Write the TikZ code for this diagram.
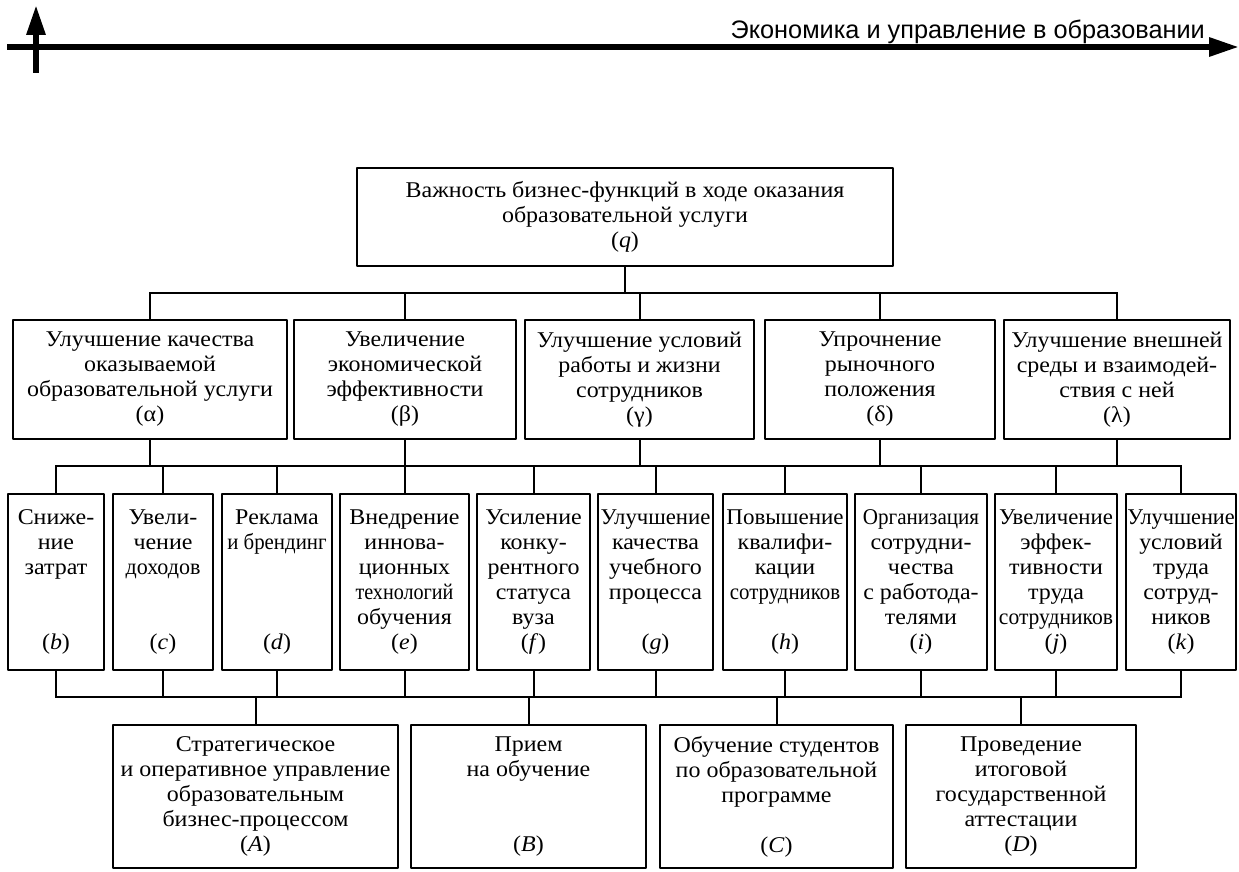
\documentclass[tikz,border=0pt]{standalone}
\usepackage{fontspec}
\usepackage{graphicx}
\setmainfont[FakeStretch=1.065]{Liberation Serif}
\newfontfamily\headfont{Liberation Sans}
\usetikzlibrary{arrows.meta}
\newcommand{\tight}[2][0.88]{\scalebox{#1}[1]{#2}}
\tikzset{
	box/.style={draw, line width=2, inner sep=0, align=center, font=\fontsize{22.5}{25}\selectfont},
	link/.style={line width=2, line cap=rect},
}
\begin{document}
\begin{tikzpicture}[x=1pt,y=-1pt,>={Triangle[length=30pt,width=18pt]}, line join=round]
	\useasboundingbox (0,0) rectangle (1239,872);
	% running head
	\draw[line width=6,->] (7,47) -- (1239,47);
	\draw[line width=6,->] (36,73) -- (36,5);
	\node[anchor=base east, inner sep=0, font=\headfont\fontsize{25.3}{27}\selectfont] (head) at (1205,38.5) {Экономика и управление в образовании};
	% buses
	\coordinate (bus1) at (0,293);
	\coordinate (bus2) at (0,466);
	\coordinate (bus3) at (0,697);
	% top
	\node[box, minimum width=536, minimum height=98] (q) at (625,217) {Важность бизнес-функций в ходе оказания\\образовательной услуги\\(\textit{q})};
	% level 2
	\foreach \n/\x/\w/\t in {
		al/150/274/{Улучшение качества\\оказываемой\\образовательной услуги\\(α)},
		be/405/222/{Увеличение\\экономической\\эффективности\\(β)},
		ga/639.5/229/{Улучшение условий\\работы и жизни\\сотрудников\\(γ)},
		de/880/230/{Упрочнение\\рыночного\\положения\\(δ)},
		la/1117/226/{Улучшение внешней\\среды и взаимодей-\\ствия с ней\\(λ)}}
	\node[box, minimum width=\w, minimum height=119] (\n) at (\x,379.5) {\t};
	% level 3
	\foreach \n/\x/\w/\t in {
		b/56/96/{Сниже-\\ние\\затрат\\~\\~\\(\textit{b})},
		c/163/100/{Увели-\\чение\\\tight[0.92]{доходов}\\~\\~\\(\textit{c})},
		d/277/110/{Реклама\\\tight[0.87]{и брендинг}\\~\\~\\~\\(\textit{d})},
		e/404.5/129/{Внедрение\\иннова-\\ционных\\\tight[0.84]{технологий}\\обучения\\(\textit{e})},
		f/533.5/113/{Усиление\\конку-\\рентного\\статуса\\вуза\\(\textit{f})},
		g/655.5/115/{\tight[0.95]{Улучшение}\\качества\\учебного\\процесса\\~\\(\textit{g})},
		h/785/124/{\tight[0.96]{Повышение}\\квалифи-\\кации\\\tight[0.87]{сотрудников}\\~\\(\textit{h})},
		i/921/132/{\tight[0.88]{Организация}\\сотрудни-\\чества\\с работода-\\телями\\(\textit{i})},
		j/1056/122/{\tight[0.95]{Увеличение}\\эффек-\\тивности\\труда\\\tight[0.9]{сотрудников}\\(\textit{j})},
		k/1181/110/{\tight[0.93]{Улучшение}\\условий\\труда\\сотруд-\\ников\\(\textit{k})}}
	\node[box, minimum width=\w, minimum height=176] (\n) at (\x,582) {\t};
	% processes
	\foreach \n/\x/\w/\t in {
		A/255.5/285/{Стратегическое\\и оперативное управление\\образовательным\\бизнес-процессом\\(\textit{A})},
		B/528.5/235/{Прием\\на обучение\\~\\~\\(\textit{B})},
		C/776.5/233/{Обучение студентов\\по образовательной\\программе\\~\\(\textit{C})},
		D/1021/230/{Проведение\\итоговой\\государственной\\аттестации\\(\textit{D})}}
	\node[box, minimum width=\w, minimum height=143] (\n) at (\x,796.5) {\t};
	% connectors
	\draw[link] (q.south) -- (q.south |- bus1);
	\draw[link] (al.north |- bus1) -- (la.north |- bus1);
	\foreach \n in {al,be,ga,de,la}{
		\draw[link] (\n.north) -- (\n.north |- bus1);
		\draw[link] (\n.south) -- (\n.south |- bus2);
	}
	\draw[link] (b.north |- bus2) -- (k.north |- bus2);
	\foreach \n in {b,c,d,e,f,g,h,i,j,k}{
		\draw[link] (\n.north) -- (\n.north |- bus2);
		\draw[link] (\n.south) -- (\n.south |- bus3);
	}
	\draw[link] (b.south |- bus3) -- (k.south |- bus3);
	\foreach \n in {A,B,C,D}
	\draw[link] (\n.north) -- (\n.north |- bus3);
\end{tikzpicture}
\end{document}
